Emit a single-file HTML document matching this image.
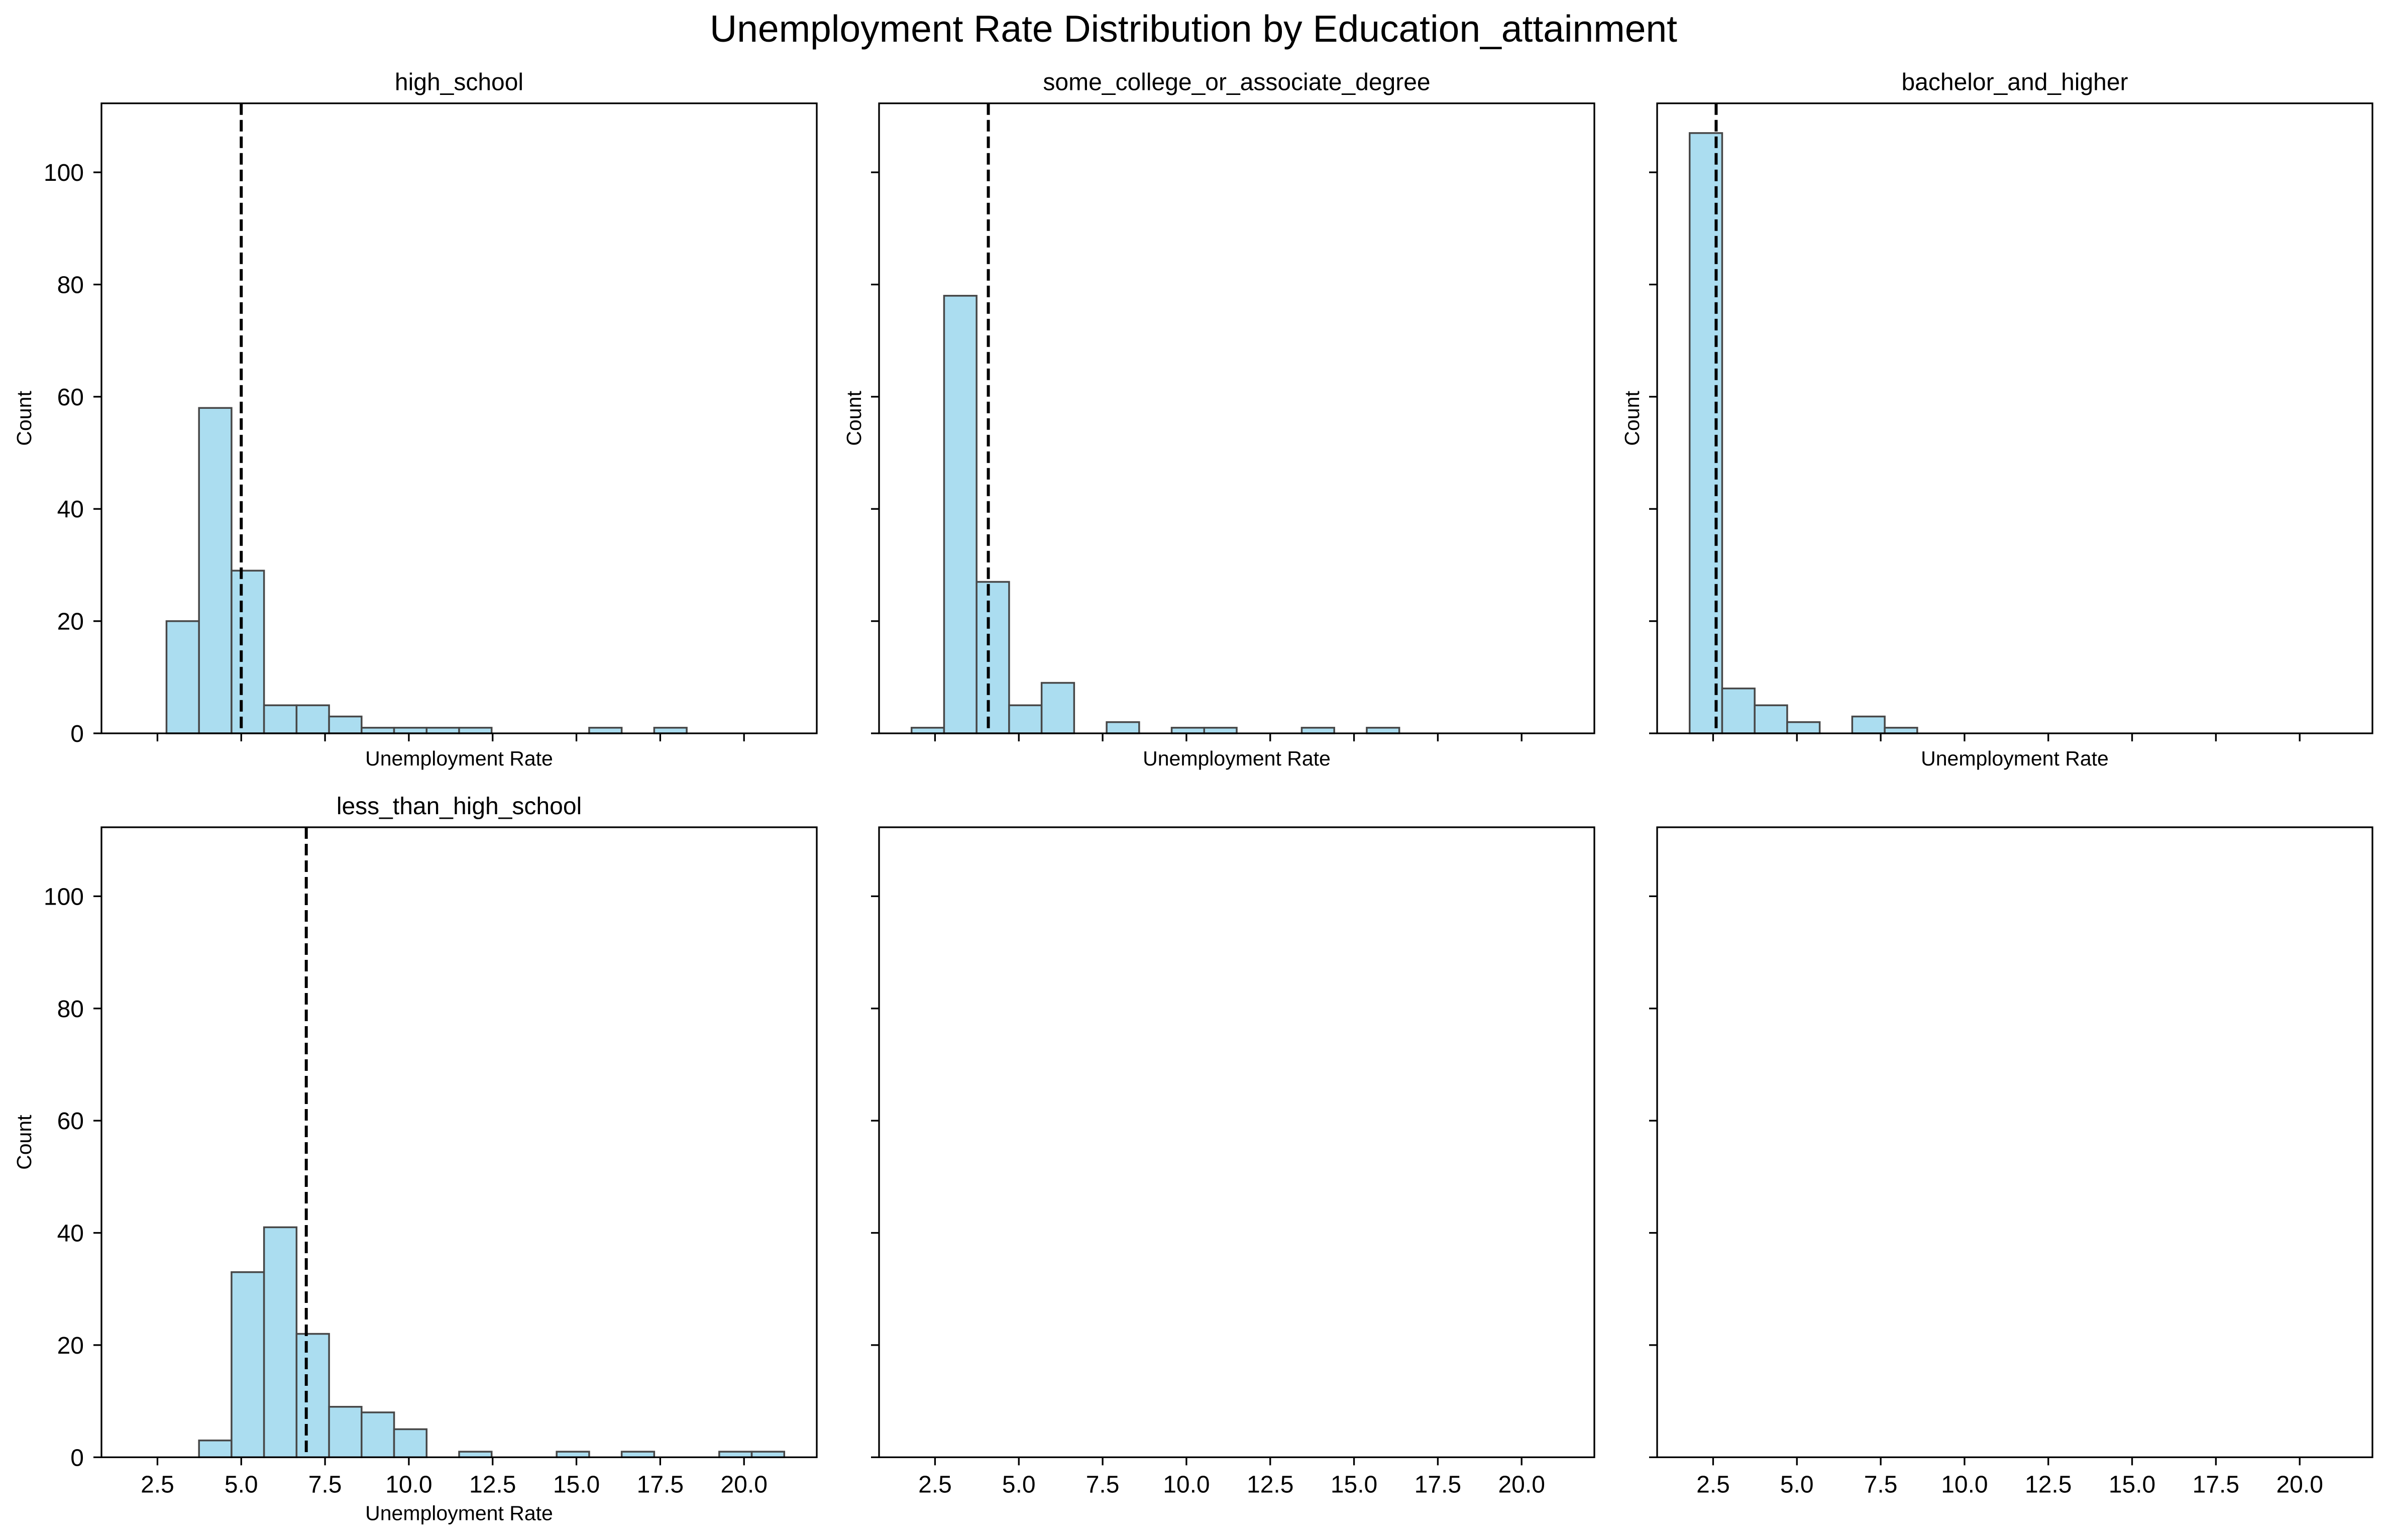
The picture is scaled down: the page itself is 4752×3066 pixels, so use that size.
<!DOCTYPE html>
<html><head><meta charset="utf-8">
<style>
html,body{margin:0;padding:0;background:#fff;}
svg{display:block;font-family:"Liberation Sans",Arial,sans-serif;}
</style></head>
<body>
<svg id="fig" width="4752" height="3066" viewBox="0 0 4752 3066" xmlns="http://www.w3.org/2000/svg">
<rect width="4752" height="3066" fill="#fff"/>
<text x="2376" y="83" font-size="75" text-anchor="middle" fill="#000">Unemployment Rate Distribution by Education_attainment</text>
</svg>
<script>
// ---- data ----
const binStart = 1.8;
const binWidth = 0.97;
const groupNames = ["high_school","some_college_or_associate_degree","bachelor_and_higher","less_than_high_school"];
const countsHighSchool = [0,20,58,29,5,5,3,1,1,1,1,0,0,0,1,0,1,0,0,0];
const countsSomeCollege = [1,78,27,5,9,0,2,0,1,1,0,0,1,0,1,0,0,0,0,0];
const countsBachelor = [107,8,5,2,0,3,1,0,0,0,0,0,0,0,0,0,0,0,0,0];
const countsLessHS = [0,0,3,33,41,22,9,8,5,0,1,0,0,1,0,1,0,0,1,1];
const meanValues = [5.0,4.09,2.59,6.94];
const xTickValues = [2.5,5.0,7.5,10.0,12.5,15.0,17.5,20.0];
const xTickLabels = ["2.5","5.0","7.5","10.0","12.5","15.0","17.5","20.0"];
const yTickValues = [0,20,40,60,80,100];
const yTickLabels = ["0","20","40","60","80","100"];
const xMin = 0.83, xMax = 22.17, yMax = 112.3;

const NS = "http://www.w3.org/2000/svg";
const svg = document.getElementById('fig');
const allCounts = [countsHighSchool,countsSomeCollege,countsBachelor,countsLessHS];
const colLeft = [202,1750,3299];
const rowTop = [205.7,1647];
const W = 1424, H = 1254.3;

function mk(tag, attrs, parent){
  const e = document.createElementNS(NS, tag);
  for (const k in attrs) e.setAttribute(k, attrs[k]);
  (parent||svg).appendChild(e);
  return e;
}

for (let r=0;r<2;r++){
  for (let c=0;c<3;c++){
    const idx = r*3+c;
    const L = colLeft[c], T = rowTop[r], B = T+H;
    const g = mk('g',{});
    
    
    const sx = v => L + (v-xMin)/(xMax-xMin)*W;
    const sy = v => B - v/yMax*H;
    const used = idx < 4;
    if (used){
      const counts = allCounts[idx];
      for (let i=0;i<counts.length;i++){
        const x0 = sx(binStart+i*binWidth), x1 = sx(binStart+(i+1)*binWidth);
        const y = sy(counts[i]);
        const rect = mk('rect',{x:x0,y:y,width:x1-x0,height:B-y,fill:'#abddf0',stroke:'#474747','stroke-width':3.5},g);
        
        
      }
      const mx = sx(meanValues[idx]);
      const ml = mk('line',{x1:mx,x2:mx,y1:T,y2:B,stroke:'#000','stroke-width':6,'stroke-dasharray':'23 10'},g);
      
      
      const tt = mk('text',{x:L+W/2,y:T-26,'font-size':48,'text-anchor':'middle',fill:'#000'},g);
      tt.textContent = groupNames[idx];
      
      
    }
    const frame = mk('rect',{x:L,y:T,width:W,height:H,fill:'none',stroke:'#000','stroke-width':3.3},g);
    
    
    for (let i=0;i<xTickValues.length;i++){
      const x = sx(xTickValues[i]);
      mk('line',{x1:x,x2:x,y1:B,y2:B+16,stroke:'#000','stroke-width':3.3},g);
      if (r===1){
        const t = mk('text',{x:x,y:B+70,'font-size':48,'text-anchor':'middle',fill:'#000'},g);
        t.textContent = xTickLabels[i];
        
        
      }
    }
    for (let i=0;i<yTickValues.length;i++){
      const y = sy(yTickValues[i]);
      mk('line',{x1:L-16,x2:L,y1:y,y2:y,stroke:'#000','stroke-width':3.3},g);
      if (c===0){
        const t = mk('text',{x:L-35,y:y+17,'font-size':48,'text-anchor':'end',fill:'#000'},g);
        t.textContent = yTickLabels[i];
        
        
      }
    }
    if (used){
      const xl = mk('text',{x:L+W/2,y:r===0?B+64:B+125,'font-size':41,'text-anchor':'middle',fill:'#000'},g);
      xl.textContent = 'Unemployment Rate';
      
      
      const yc = (T+B)/2;
      const lx = c===0 ? L-140 : L-36;
      const yl = mk('text',{x:lx,y:yc,'font-size':41,'text-anchor':'middle',fill:'#000',transform:'rotate(-90 '+lx+' '+yc+')'},g);
      yl.textContent = 'Count';
      
      
    }
  }
}
</script>
</body></html>
